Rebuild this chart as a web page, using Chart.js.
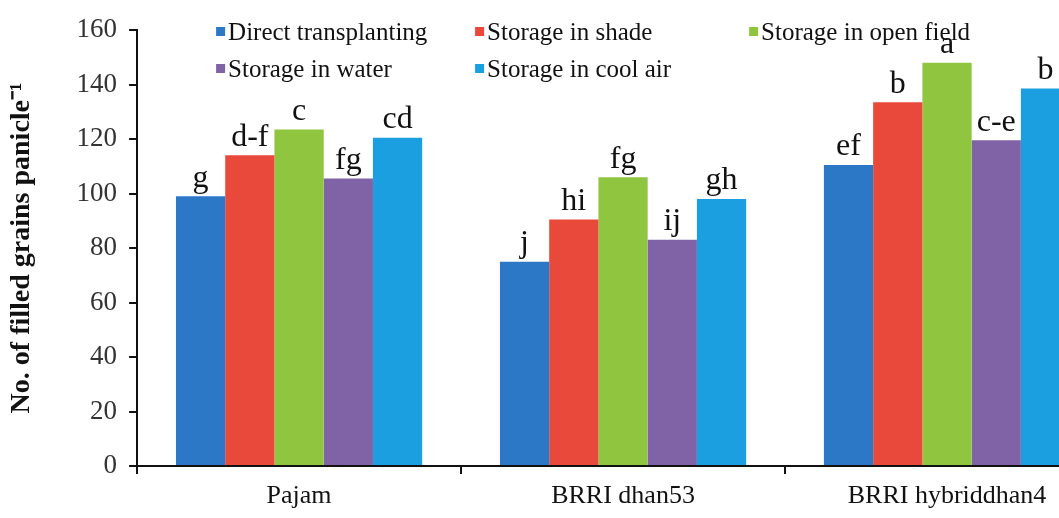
<!DOCTYPE html>
<html>
<head>
<meta charset="utf-8">
<script src="https://cdn.jsdelivr.net/npm/chart.js@4.4.0/dist/chart.umd.min.js"></script>
<style>
  html, body { margin: 0; padding: 0; background: #fff; overflow: hidden; }
  #wrap { width: 1059px; height: 518px; overflow: hidden; }
</style>
</head>
<body>
<div id="wrap"><canvas id="grafica" width="1112" height="518"></canvas></div>
<script>
const categorias = ['Pajam', 'BRRI dhan53', 'BRRI hybriddhan4'];
const tratamientos = ['Direct transplanting', 'Storage in shade', 'Storage in open field', 'Storage in water', 'Storage in cool air'];
const colores = ['#2c77c6', '#e8493a', '#8fc53f', '#8063a7', '#1c9fe0'];

const directo = [99, 75, 110.5];
const sombra = [114, 90.5, 133.5];
const campo = [123.5, 106, 148];
const agua = [105.5, 83, 119.5];
const aireFrio = [120.5, 98, 138.5];

const letras = [
  ['g', 'j', 'ef'],
  ['d-f', 'hi', 'b'],
  ['c', 'fg', 'a'],
  ['fg', 'ij', 'c-e'],
  ['cd', 'gh', 'b']
];

const ticksY = [0, 20, 40, 60, 80, 100, 120, 140, 160];

const serie = [directo, sombra, campo, agua, aireFrio];
const fuente = '"Liberation Serif", "Times New Roman", serif';

// letras de significancia encima de cada barra
const pluginLetras = {
  id: 'letras',
  afterDatasetsDraw(chart) {
    const c = chart.ctx;
    c.save();
    c.font = '32px ' + fuente;
    c.fillStyle = '#111';
    c.textAlign = 'center';
    c.textBaseline = 'bottom';
    chart.data.datasets.forEach((ds, i) => {
      chart.getDatasetMeta(i).data.forEach((bar, j) => {
        c.fillText(letras[i][j], bar.x, bar.y - 2);
      });
    });
    c.restore();
  }
};

// leyenda en dos filas como en la figura original
const pluginLeyenda = {
  id: 'leyenda',
  afterDraw(chart) {
    const c = chart.ctx;
    const left = chart.chartArea.left;
    const pos = [[79, 32], [338, 32], [612, 32], [79, 69], [338, 69]];
    c.save();
    c.font = '25px ' + fuente;
    c.textBaseline = 'middle';
    tratamientos.forEach((t, i) => {
      const x = left + pos[i][0];
      const y = pos[i][1];
      c.fillStyle = colores[i];
      c.fillRect(x, y - 5, 9, 9);
      c.fillStyle = '#111';
      c.fillText(t, x + 12, y + 1);
    });
    c.restore();
  }
};

new Chart(document.getElementById('grafica'), {
  type: 'bar',
  data: {
    labels: categorias,
    datasets: tratamientos.map((t, i) => ({
      label: t,
      data: serie[i],
      backgroundColor: colores[i],
      borderWidth: 0
    }))
  },
  options: {
    responsive: false,
    animation: false,
    layout: { padding: { top: 30, right: 3, left: 5, bottom: 0 } },
    datasets: { bar: { categoryPercentage: 0.76, barPercentage: 1 } },
    plugins: {
      legend: { display: false },
      tooltip: { enabled: false }
    },
    scales: {
      x: {
        grid: { display: true, drawOnChartArea: false, drawTicks: true, tickLength: 8, color: '#111', lineWidth: 2, offset: true },
        border: { display: true, color: '#111', width: 2 },
        ticks: { color: '#111', font: { family: fuente, size: 26, lineHeight: 1.0 }, padding: 9 }
      },
      y: {
        min: 0,
        max: 160,
        afterBuildTicks(scale) { scale.ticks = ticksY.map(v => ({ value: v })); },
        grid: { display: true, drawOnChartArea: false, drawTicks: true, tickLength: 8, color: '#111', lineWidth: 2 },
        border: { display: true, color: '#111', width: 2 },
        ticks: { color: '#333', font: { family: fuente, size: 27 }, padding: 12 },
        title: {
          display: true,
          text: 'No. of filled grains panicle\u207B\u00B9',
          color: '#111',
          font: { family: fuente, size: 28, weight: 'bold' },
          padding: { top: 0, bottom: 26 }
        }
      }
    }
  },
  plugins: [pluginLetras, pluginLeyenda]
});
</script>
</body>
</html>
